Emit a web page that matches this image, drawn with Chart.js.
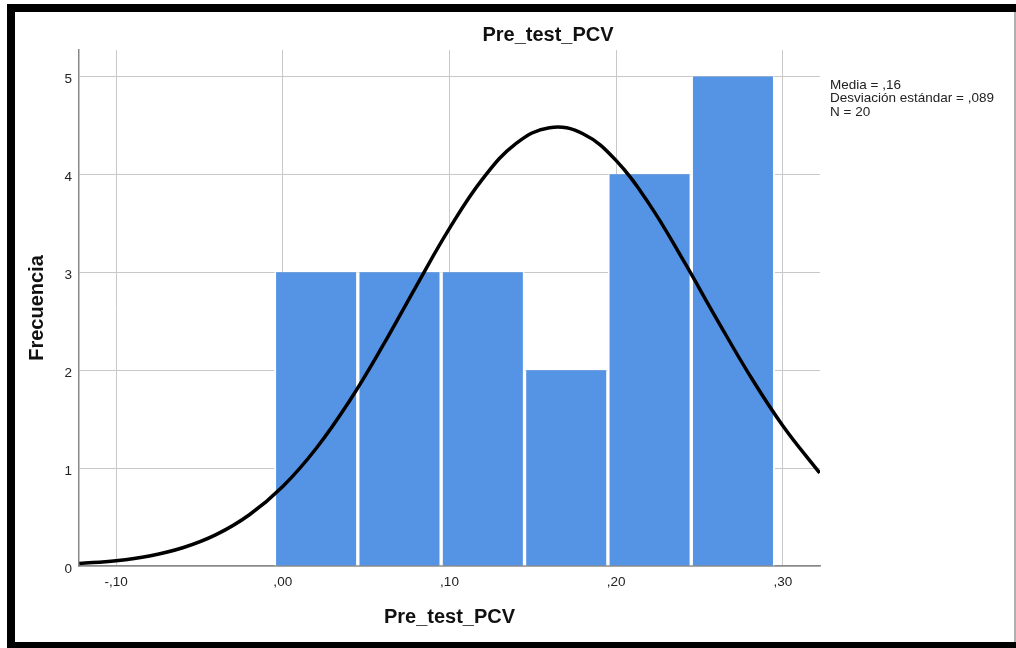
<!DOCTYPE html>
<html>
<head>
<meta charset="utf-8">
<script src="https://cdn.jsdelivr.net/npm/chart.js@4.4.1/dist/chart.umd.min.js"></script>
<style>
  html, body { margin: 0; padding: 0; background: #fff; }
  #c { display: block; }
</style>
</head>
<body>
<canvas id="c" width="1016" height="648"></canvas>
<script>
// ---- data ----
const binCenters = [0.020, 0.070, 0.120, 0.170, 0.220, 0.270];
const frequencies = [3, 3, 3, 2, 4, 5];
const curveX = [-0.122, -0.10, -0.08, -0.06, -0.04, -0.02, 0.00, 0.02, 0.04, 0.06, 0.08, 0.10, 0.12, 0.14, 0.16, 0.18, 0.20, 0.22, 0.24, 0.26, 0.28, 0.30, 0.322];
const curveY = [0.025, 0.054, 0.103, 0.186, 0.32, 0.523, 0.812, 1.20, 1.685, 2.25, 2.857, 3.448, 3.956, 4.316, 4.477, 4.415, 4.14, 3.691, 3.128, 2.53, 1.95, 1.43, 0.95];
const xTicks = [-0.10, 0.00, 0.10, 0.20, 0.30];
const xTickLabels = ["-,10", ",00", ",10", ",20", ",30"];
const yTicks = [0, 1, 2, 3, 4, 5];
const chartTitle = "Pre_test_PCV";
const xTitle = "Pre_test_PCV";
const yTitle = "Frecuencia";
const statsLines = ["Media = ,16", "Desviación estándar = ,089", "N = 20"];

const FONT = "'Liberation Sans', Arial, sans-serif";

const framePlugin = {
  id: 'frame',
  beforeDraw(chart) {
    const ctx = chart.ctx;
    ctx.save();
    ctx.fillStyle = '#ffffff';
    ctx.fillRect(0, 0, chart.width, chart.height);
    ctx.fillStyle = '#000000';
    ctx.fillRect(7, 4, 1009, 8);
    ctx.fillRect(7, 4, 8, 644);
    ctx.fillRect(7, 642, 1009, 6);
    ctx.fillStyle = '#b0b0b0';
    ctx.fillRect(1014, 12, 2, 630);
    ctx.restore();
  },
  afterDraw(chart) {
    const ctx = chart.ctx;
    ctx.save();
    ctx.fillStyle = '#111';
    ctx.font = "bold 20px " + FONT;
    ctx.textAlign = 'center';
    ctx.textBaseline = 'middle';
    ctx.fillText(chartTitle, 548, 35);
    ctx.font = "13.5px " + FONT;
    ctx.textAlign = 'left';
    ctx.fillStyle = '#222';
    statsLines.forEach((t, i) => ctx.fillText(t, 830, 85 + i * 13.7));
    ctx.restore();
  }
};

new Chart(document.getElementById('c'), {
  type: 'bar',
  data: {
    datasets: [
      {
        type: 'line',
        data: curveX.map((x, i) => ({ x: x, y: curveY[i] })),
        borderColor: '#000000',
        borderWidth: 3.5,
        pointRadius: 0,
        tension: 0.4,
        fill: false,
        order: 0
      },
      {
        type: 'bar',
        data: binCenters.map((x, i) => ({ x: x, y: frequencies[i] })),
        backgroundColor: '#5594e4',
        borderColor: '#ffffff',
        borderWidth: { left: 2, right: 2, top: 0, bottom: 0 },
        borderSkipped: false,
        barPercentage: 1.0,
        categoryPercentage: 1.0,
        order: 1
      }
    ]
  },
  options: {
    responsive: false,
    animation: false,
    devicePixelRatio: 1,
    layout: { padding: { top: 50, right: 196, bottom: 0, left: 0 } },
    plugins: { legend: { display: false }, tooltip: { enabled: false }, title: { display: false } },
    scales: {
      x: {
        type: 'linear',
        min: -0.1222,
        max: 0.3222,
        offset: false,
        afterBuildTicks: s => { s.ticks = xTicks.map(v => ({ value: v })); },
        afterFit: s => { s.height = 82; },
        ticks: {
          autoSkip: false,
          maxRotation: 0,
          padding: 8,
          color: '#222',
          font: { family: FONT, size: 13.5 },
          callback: (v, i) => xTickLabels[i]
        },
        grid: { color: '#c8c8c8', lineWidth: 1, drawTicks: false, offset: false },
        border: { display: true, color: '#888', width: 1.5 },
        title: {
          display: true,
          text: xTitle,
          color: '#111',
          font: { family: FONT, size: 20, weight: 'bold' },
          padding: { top: 4, bottom: 19 }
        }
      },
      y: {
        type: 'linear',
        min: 0,
        max: 5.27,
        afterBuildTicks: s => { s.ticks = yTicks.map(v => ({ value: v })); },
        afterFit: s => { s.width = 79; },
        ticks: {
          padding: 7,
          labelOffset: 3,
          color: '#222',
          font: { family: FONT, size: 13.5 },
          callback: v => String(v)
        },
        grid: { color: '#c8c8c8', lineWidth: 1, drawTicks: false },
        border: { display: true, color: '#888', width: 1.5 },
        title: {
          display: true,
          text: yTitle,
          color: '#111',
          font: { family: FONT, size: 20, weight: 'bold' },
          padding: { top: 25, bottom: 0 }
        }
      }
    }
  },
  plugins: [framePlugin]
});
</script>
</body>
</html>
